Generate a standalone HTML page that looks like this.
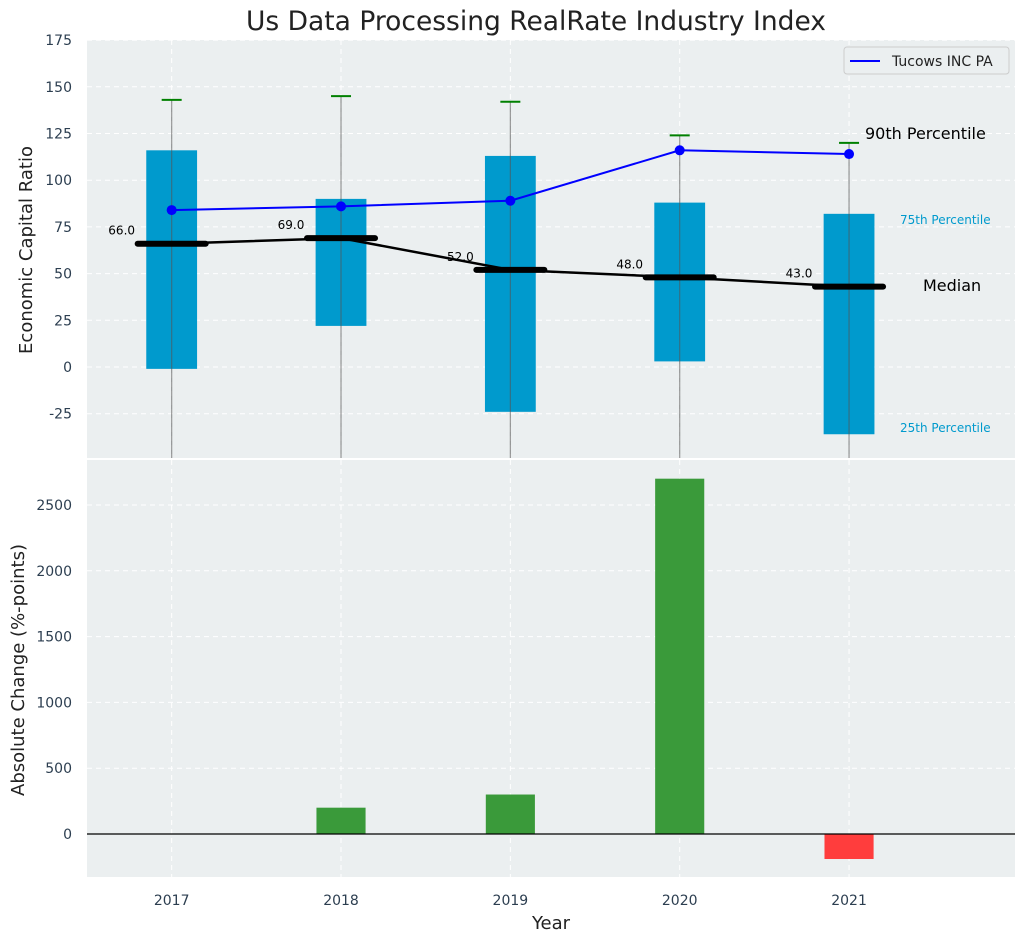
<!DOCTYPE html>
<html><head><meta charset="utf-8"><style>
body{margin:0;background:#fff;}
svg{display:block;font-family:"DejaVu Sans","Liberation Sans",sans-serif;}
</style></head><body>
<svg id="c" width="1026" height="942" xmlns="http://www.w3.org/2000/svg"></svg>
<script>
const years=[2017,2018,2019,2020,2021];
const p75=[116,90,113,88,82];
const p25=[-1,22,-24,3,-36];
const p90=[143,145,142,124,120];
const p10=[-60,-60,-60,-60,-60];
const medians=[66,69,52,48,43];
const tucows=[84,86,89,116,114];
const changes=[0,200,300,2700,-190];
const topTicks=[-25,0,25,50,75,100,125,150,175];
const botTicks=[0,500,1000,1500,2000,2500];

const svg=document.getElementById('c');
const NS='http://www.w3.org/2000/svg';
function mk(tag,at,parent,name){const e=document.createElementNS(NS,tag);for(const k in at)e.setAttribute(k,at[k]);


(parent||svg).appendChild(e);return e;}
const L=87,R=1015;
const x=v=>L+(v-2016.5)/(5.48)*(R-L);
const T1=40,B1=458,yT=v=>367-v*1.868;
const T2=460,B2=877,yB=v=>834-v*0.1316;
const tickCol='#2c3e50';

mk('text',{x:536,y:30,'font-size':26.5,'text-anchor':'middle',fill:'#222'},svg,'chart-title').textContent='Us Data Processing RealRate Industry Index';
mk('rect',{x:L,y:T1,width:R-L,height:B1-T1,fill:'#ebeff0'},svg,'top-plot-area');
mk('rect',{x:L,y:T2,width:R-L,height:B2-T2,fill:'#ebeff0'},svg,'bottom-plot-area');
topTicks.forEach(t=>{const yy=yT(t);
 mk('line',{x1:L,x2:R,y1:yy,y2:yy,stroke:'#fff','stroke-dasharray':'5,4'},svg,'top-gridline');
 const tx=mk('text',{x:72,y:yy+5,'font-size':14,'text-anchor':'end',fill:tickCol},svg,'top-y-tick');tx.textContent=t;});
botTicks.forEach(t=>{const yy=yB(t);
 mk('line',{x1:L,x2:R,y1:yy,y2:yy,stroke:'#fff','stroke-dasharray':'5,4'},svg,'bottom-gridline');
 const tx=mk('text',{x:72,y:yy+5,'font-size':14,'text-anchor':'end',fill:tickCol},svg,'bottom-y-tick');tx.textContent=t;});
years.forEach(yr=>{const xx=x(yr);
 mk('line',{x1:xx,x2:xx,y1:T1,y2:B1,stroke:'#fff','stroke-dasharray':'5,4'},svg,'top-x-gridline');
 mk('line',{x1:xx,x2:xx,y1:T2,y2:B2,stroke:'#fff','stroke-dasharray':'5,4'},svg,'bottom-x-gridline');
 const tx=mk('text',{x:xx,y:905,'font-size':14,'text-anchor':'middle',fill:tickCol},svg,'x-tick');tx.textContent=yr;});
const clip=mk('clipPath',{id:'cp'},svg,'clip');mk('rect',{x:L,y:T1,width:R-L,height:B1-T1},clip,'clip-rect');
const g=mk('g',{'clip-path':'url(#cp)'},svg,'top-series');
const bw=0.3*(R-L)/5.48;
years.forEach((yr,i)=>{const xx=x(yr);
 mk('rect',{x:xx-bw/2,y:yT(p75[i]),width:bw,height:yT(p25[i])-yT(p75[i]),fill:'#009ACD'},g,'iqr-box');
 mk('line',{x1:xx,x2:xx,y1:yT(p90[i]),y2:yT(p10[i]),stroke:'#555','stroke-opacity':0.6,'stroke-width':1.2},g,'whisker');
 mk('line',{x1:xx-10,x2:xx+10,y1:yT(p90[i]),y2:yT(p90[i]),stroke:'green','stroke-width':2},g,'p90-cap');
});
mk('polyline',{points:years.map((yr,i)=>x(yr)+','+yT(medians[i])).join(' '),fill:'none',stroke:'#000','stroke-width':2.5},g,'median-line');
years.forEach((yr,i)=>{const xx=x(yr),yy=yT(medians[i]);
 mk('line',{x1:xx-34,x2:xx+34,y1:yy,y2:yy,stroke:'#000','stroke-width':6,'stroke-linecap':'round'},g,'median-marker');
 const t=mk('text',{x:xx-50,y:yy-9,'font-size':12,'text-anchor':'middle',fill:'#000'},g,'median-label');t.textContent=medians[i].toFixed(1);
});
mk('polyline',{points:years.map((yr,i)=>x(yr)+','+yT(tucows[i])).join(' '),fill:'none',stroke:'#0000ff','stroke-width':2},g,'tucows-line');
years.forEach((yr,i)=>mk('circle',{cx:x(yr),cy:yT(tucows[i]),r:5,fill:'#0000ff'},g,'tucows-point'));
const lab=(t,xx,yy,s,c,n)=>{const e=mk('text',{x:xx,y:yy,'font-size':s,fill:c},svg,n);e.textContent=t;};
lab('90th Percentile',865,139,16,'#000','p90-annotation');
lab('75th Percentile',900,224,12,'#009ACD','p75-annotation');
lab('Median',923,291,16,'#000','median-annotation');
lab('25th Percentile',900,432,12,'#009ACD','p25-annotation');
const lg=mk('g',{},svg,'legend');
mk('rect',{x:844,y:47,width:165,height:27,rx:3,fill:'#ebeff0',stroke:'#ccc'},lg,'legend-box');
mk('line',{x1:850,x2:880,y1:61,y2:61,stroke:'#0000ff','stroke-width':2},lg,'legend-swatch');
const lt=mk('text',{x:892,y:66,'font-size':14,fill:'#222'},lg,'legend-label');lt.textContent='Tucows INC PA';
const bw2=0.29*(R-L)/5.48;
years.forEach((yr,i)=>{const v=changes[i];if(!v)return;const y0=yB(0),y1=yB(v);
 mk('rect',{x:x(yr)-bw2/2,y:Math.min(y0,y1),width:bw2,height:Math.abs(y1-y0),fill:v>=0?'#3a9a3a':'#ff3d3d'},svg,'change-bar');});
mk('line',{x1:L,x2:R,y1:yB(0),y2:yB(0),stroke:'#000','stroke-width':1.2},svg,'zero-line');
const a1=mk('text',{x:32,y:250,'font-size':18,'text-anchor':'middle',fill:'#222',transform:'rotate(-90 32 250)'},svg,'top-y-axis-title');a1.textContent='Economic Capital Ratio';
const a2=mk('text',{x:24,y:670,'font-size':18,'text-anchor':'middle',fill:'#222',transform:'rotate(-90 24 670)'},svg,'bottom-y-axis-title');a2.textContent='Absolute Change (%-points)';
const a3=mk('text',{x:551,y:929,'font-size':18,'text-anchor':'middle',fill:'#222'},svg,'x-axis-title');a3.textContent='Year';
</script>
</body></html>
